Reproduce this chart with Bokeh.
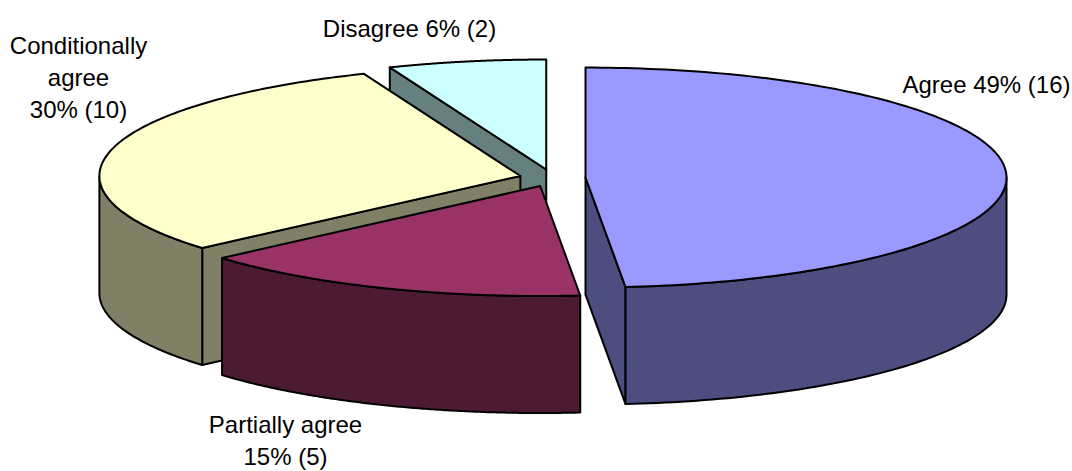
import numpy as np
from bokeh.core.properties import value
from bokeh.embed import file_html
from bokeh.models import Range1d
from bokeh.plotting import figure
from bokeh.resources import INLINE

# Survey responses, clockwise from twelve o'clock
categories = ["Agree", "Partially agree", "Conditionally agree", "Disagree"]
counts = [16, 5, 10, 2]
top_colors = ["#9999ff", "#993366", "#ffffcc", "#ccffff"]
wall_colors = ["#4d4d80", "#4d1a33", "#808066", "#668080"]

label_lines = [["Agree 49% (16)"], ["Partially agree", "15% (5)"],
               ["Conditionally", "agree", "30% (10)"], ["Disagree 6% (2)"]]
label_anchor = [(986, 84), (285, 424), (78, 45), (409, 28)]
LINE_STEP = 32

# Projection of the tilted pie onto the page, in pixels
CX, CY = 552.0, 177.5
RX, RY = 421.0, 110.0
DEPTH = 117.0
EXPLODE = 0.0785

W, H = 1072, 471
p = figure(width=W, height=H, output_backend="svg", toolbar_location=None,
           x_range=Range1d(0, W), y_range=Range1d(H, 0), min_border=0)
p.axis.visible = False
p.grid.visible = False
p.outline_line_color = None
p.background_fill_color = "white"
p.border_fill_color = "white"

total = sum(counts)
edges = np.concatenate([[0.0], np.cumsum(counts)]) / total * 2 * np.pi


def rim(ax, ay, angles):
    return ax + RX * np.sin(angles), ay - RY * np.cos(angles)


def draw_face(xs, ys, color):
    p.patch(list(xs), list(ys), fill_color=color, line_color="black", line_width=2,
            line_join="round")


# Back slices first, so that the nearer ones overlap them
for i in [3, 2, 1, 0]:
    start, stop = edges[i], edges[i + 1]
    mid = (start + stop) / 2
    ax = CX + EXPLODE * RX * np.sin(mid)
    ay = CY - EXPLODE * RY * np.cos(mid)
    t = np.linspace(start, stop, 160)
    rx, ry = rim(ax, ay, t)

    # Radial cut faces, only the ones turned towards the viewer
    cut_faces = [edge for edge, visible in ((start, np.sin(start) < -1e-9), (stop, np.sin(stop) > 1e-9)) if visible]
    for edge in cut_faces:
        ex, ey = rim(ax, ay, np.array([edge]))
        draw_face([ax, ex[0], ex[0], ax], [ay, ey[0], ey[0] + DEPTH, ay + DEPTH], wall_colors[i])

    # Outer wall, only where the rim faces the front
    front = np.cos(t) <= 0
    if front.any():
        fx, fy = rx[front], ry[front]
        draw_face(np.concatenate([fx, fx[::-1]]), np.concatenate([fy, fy[::-1] + DEPTH]), wall_colors[i])

    # Top surface
    draw_face(np.concatenate([[ax], rx]), np.concatenate([[ay], ry]), top_colors[i])

for lines, (lx, ly) in zip(label_lines, label_anchor):
    for n, line in enumerate(lines):
        p.text([lx], [ly + n * LINE_STEP], text=[line], text_font=value("Liberation Sans"),
               text_font_size="24px", text_color="black", text_align="center",
               text_baseline="middle")

open("out.html", "w").write(file_html(p, INLINE))
